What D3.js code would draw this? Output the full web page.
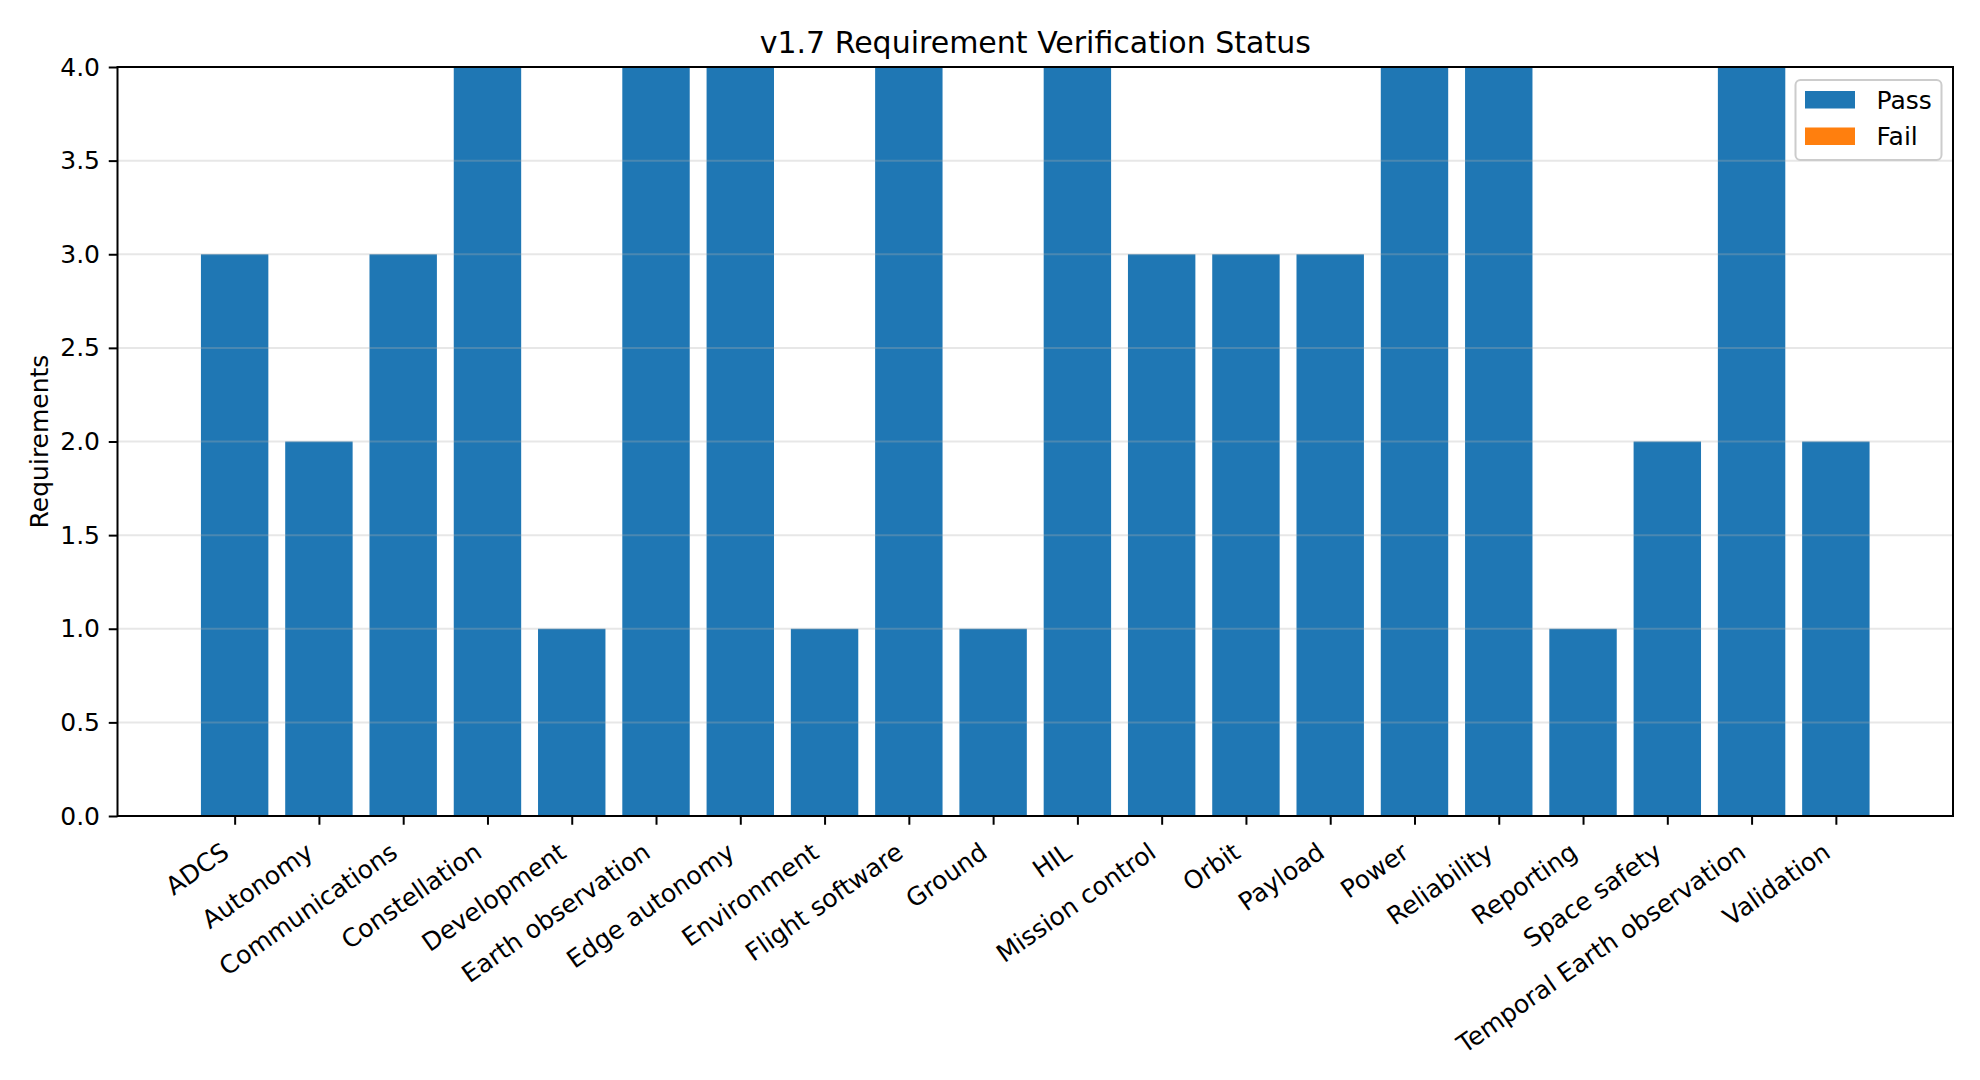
<!DOCTYPE html>
<html>
<head>
<meta charset="utf-8">
<script src="https://cdn.jsdelivr.net/npm/d3@7"></script>
<style>
  body { margin: 0; background: #fff; }
  svg { font-family: "DejaVu Sans", sans-serif; }
</style>
</head>
<body>
<div id="chart"></div>
<script>
const categories = ['ADCS', 'Autonomy', 'Communications', 'Constellation', 'Development',
    'Earth observation', 'Edge autonomy', 'Environment', 'Flight software', 'Ground', 'HIL',
    'Mission control', 'Orbit', 'Payload', 'Power', 'Reliability', 'Reporting', 'Space safety',
    'Temporal Earth observation', 'Validation'];
const passCounts = [3, 2, 3, 4, 1, 4, 4, 1, 4, 1, 4, 3, 3, 3, 4, 4, 1, 2, 4, 2];
const failCounts = [0, 0, 0, 0, 0, 0, 0, 0, 0, 0, 0, 0, 0, 0, 0, 0, 0, 0, 0, 0];
const yTicks = [0, 0.5, 1, 1.5, 2, 2.5, 3, 3.5, 4];
const seriesNames = ['Pass', 'Fail'];
const seriesColors = ['#1f77b4', '#ff7f0e'];

const config = {
    width: 1980,
    height: 1080,
    margin: { top: 67, right: 27, bottom: 264, left: 117.5 }
};

const innerW = config.width - config.margin.left - config.margin.right;
const innerH = config.height - config.margin.top - config.margin.bottom;

const svg = d3.select('#chart')
    .append('svg')
    .attr('width', config.width)
    .attr('height', config.height);

const chart = svg.append('g')
    .attr('transform', `translate(${config.margin.left}, ${config.margin.top})`);

// matplotlib-style x limits: bars of width 0.8 plus 5% margin
const barW = 0.8;
const span = (categories.length - 1) + barW;
const pad = span * 0.05;
const xScale = d3.scaleLinear()
    .domain([-barW / 2 - pad, categories.length - 1 + barW / 2 + pad])
    .range([0, innerW]);

const yScale = d3.scaleLinear().domain([0, 4]).range([innerH, 0]);

// stacked pass / fail
const rows = categories.map((c, i) => ({ cat: c, i, Pass: passCounts[i], Fail: failCounts[i] }));
const stacked = d3.stack().keys(seriesNames)(rows);

chart.selectAll('.series')
    .data(stacked)
    .join('g')
    .attr('class', 'series')
    .attr('fill', (d, k) => seriesColors[k])
    .selectAll('rect')
    .data(d => d)
    .join('rect')
    .attr('x', d => xScale(d.data.i - barW / 2))
    .attr('width', d => xScale(barW) - xScale(0))
    .attr('y', d => yScale(d[1]))
    .attr('height', d => yScale(d[0]) - yScale(d[1]));

// horizontal grid, drawn over bars with alpha
chart.selectAll('.grid')
    .data(yTicks)
    .join('line')
    .attr('class', 'grid')
    .attr('x1', 0)
    .attr('x2', innerW)
    .attr('y1', d => yScale(d))
    .attr('y2', d => yScale(d))
    .attr('stroke', '#b0b0b0')
    .attr('stroke-opacity', 0.3)
    .attr('stroke-width', 2);

// y axis
const yAxis = d3.axisLeft(yScale)
    .tickValues(yTicks)
    .tickFormat(d3.format('.1f'))
    .tickSize(8.75)
    .tickPadding(8.75);

const yAxisGroup = chart.append('g').attr('class', 'axis y-axis').call(yAxis);
yAxisGroup.select('.domain').remove();
yAxisGroup.selectAll('.tick line').attr('stroke', '#000').attr('stroke-width', 2);
yAxisGroup.selectAll('.tick text')
    .attr('font-size', 25)
    .attr('fill', '#000')
    .attr('font-family', '"DejaVu Sans", sans-serif');

// x axis
const xAxis = d3.axisBottom(xScale)
    .tickValues(d3.range(categories.length))
    .tickFormat(i => categories[i])
    .tickSize(8.75)
    .tickPadding(0);

const xAxisGroup = chart.append('g')
    .attr('class', 'axis x-axis')
    .attr('transform', `translate(0, ${innerH})`)
    .call(xAxis);
xAxisGroup.select('.domain').remove();
xAxisGroup.selectAll('.tick line').attr('stroke', '#000').attr('stroke-width', 2);
xAxisGroup.selectAll('.tick text')
    .attr('font-size', 25)
    .attr('fill', '#000')
    .attr('font-family', '"DejaVu Sans", sans-serif')
    .attr('text-anchor', 'end')
    .attr('dy', null)
    .attr('y', null)
    .attr('transform', 'translate(-4.5, 40) rotate(-35)');

// frame
chart.append('rect')
    .attr('x', 0)
    .attr('y', 0)
    .attr('width', innerW)
    .attr('height', innerH)
    .attr('fill', 'none')
    .attr('stroke', '#000')
    .attr('stroke-width', 2);

// title and y label
svg.append('text')
    .attr('x', config.margin.left + innerW / 2)
    .attr('y', 52.5)
    .attr('text-anchor', 'middle')
    .attr('font-size', 30)
    .attr('fill', '#000')
    .text('v1.7 Requirement Verification Status');

svg.append('text')
    .attr('transform', `translate(48, ${config.margin.top + innerH / 2}) rotate(-90)`)
    .attr('text-anchor', 'middle')
    .attr('font-size', 25)
    .attr('fill', '#000')
    .text('Requirements');

// legend
const legend = svg.append('g').attr('transform', 'translate(1795.5, 80)');
legend.append('rect')
    .attr('width', 146)
    .attr('height', 80)
    .attr('rx', 5)
    .attr('fill', '#fff')
    .attr('fill-opacity', 0.8)
    .attr('stroke', '#cccccc')
    .attr('stroke-width', 2);

const items = legend.selectAll('.item')
    .data(seriesNames)
    .join('g')
    .attr('class', 'item')
    .attr('transform', (d, k) => `translate(0, ${k * 36.5})`);

items.append('rect')
    .attr('x', 9.5)
    .attr('y', 11)
    .attr('width', 50)
    .attr('height', 17.5)
    .attr('fill', (d, k) => seriesColors[k]);

items.append('text')
    .attr('x', 81)
    .attr('y', 28.5)
    .attr('font-size', 25)
    .attr('fill', '#000')
    .text(d => d);
</script>
</body>
</html>
